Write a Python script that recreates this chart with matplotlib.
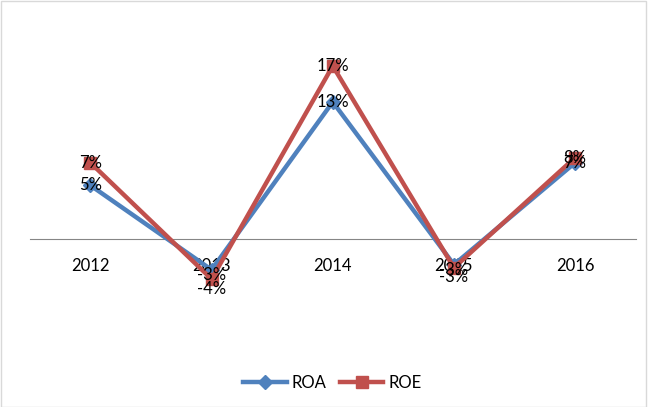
import matplotlib.pyplot as plt
from matplotlib.patches import Rectangle

# ----------------------------
# Data (percent)
# ----------------------------
years = ["2012", "2013", "2014", "2015", "2016"]
roa = [5.2, -3.0, 13.3, -2.5, 7.4]
roe = [7.4, -3.9, 16.8, -2.8, 7.9]
roa_labels = ["5%", "-3%", "13%", "-3%", "7%"]
roe_labels = ["7%", "-4%", "17%", "-3%", "8%"]

plt.rcParams["font.family"] = ["Lato", "DejaVu Sans"]

fig = plt.figure(figsize=(6.48, 4.07), dpi=100)
ax = fig.add_axes([0.046, 0.160, 0.935, 0.759])

x = range(len(years))

ax.plot(x, roa, color="#4F81BD", linewidth=3.2, marker="D",
        markersize=7, label="ROA", zorder=3)
ax.plot(x, roe, color="#C0504D", linewidth=3.2, marker="s",
        markersize=8, label="ROE", zorder=4)

# data labels
for xi, v, t in zip(x, roa, roa_labels):
    dy = -4 if v < 0 else 0
    ax.annotate(t, (xi, v), xytext=(0, dy), textcoords="offset points",
                ha="center", va="center", fontsize=12, zorder=6)
for xi, v, t in zip(x, roe, roe_labels):
    dy = -7 if v < 0 else 0
    ax.annotate(t, (xi, v), xytext=(0, dy), textcoords="offset points",
                ha="center", va="center", fontsize=12, zorder=6)

# axis line through zero (set before tick labels: it resets ticks)
for s in ["top", "right", "left"]:
    ax.spines[s].set_visible(False)
ax.spines["bottom"].set_position(("data", 0))
ax.spines["bottom"].set_color("#868686")
ax.spines["bottom"].set_zorder(1)

ax.set_xlim(-0.5, len(years) - 0.5)
ax.set_ylim(-10, 20)
ax.set_xticks(list(x))
ax.set_xticklabels(years)
ax.set_yticks([])
ax.tick_params(axis="x", length=0, pad=14, labelsize=12)

fig.legend(loc="center", bbox_to_anchor=(0.513, 0.059), ncol=2,
           frameon=False, fontsize=12, handlelength=2.6,
           columnspacing=0.8, handletextpad=0.3)

# chart border
fig.patches.append(Rectangle((0.001, 0.001), 0.996, 0.996,
                             transform=fig.transFigure, fill=False,
                             edgecolor="#D9D9D9", linewidth=1))

plt.savefig("out.png", dpi=100)
